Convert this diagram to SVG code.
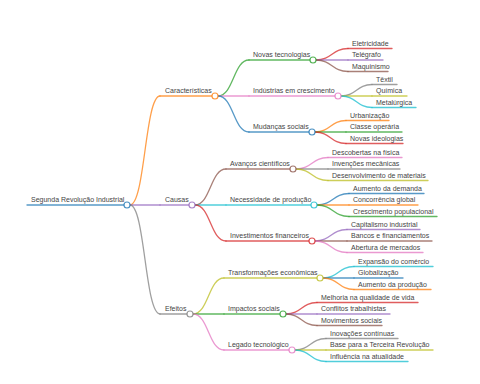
<svg xmlns="http://www.w3.org/2000/svg" width="480" height="384" viewBox="0 0 480 384">
<style>
text{font-family:"Liberation Sans",Arial,sans-serif;font-size:7px;fill:#444}
path,line{fill:none;stroke-width:1.3;stroke-linecap:round;stroke-opacity:0.75}
circle{fill:#fff;stroke-width:1.2;stroke-opacity:0.8}
.c0{stroke:#1f77b4}.c1{stroke:#ff7f0e}.c2{stroke:#2ca02c}.c3{stroke:#d62728}.c4{stroke:#9467bd}
.c5{stroke:#8c564b}.c6{stroke:#e377c2}.c7{stroke:#7f7f7f}.c8{stroke:#bcbd22}.c9{stroke:#17becf}
</style>
<rect width="480" height="384" fill="#fff"/>
<g id="connectors">
<path class="c1" d="M130,205 C145,205 145,96 160,96"/>
<path class="c4" d="M130,205 L160,205"/>
<path class="c7" d="M130,205 C145,205 145,314 160,314"/>
<path class="c2" d="M218,96 C233.5,96 233.5,60 249,60"/>
<path class="c6" d="M218,96 L249,96"/>
<path class="c0" d="M218,96 C233.5,96 233.5,132 249,132"/>
<path class="c5" d="M195,205 C210.5,205 210.5,169 226,169"/>
<path class="c9" d="M195,205 L226,205"/>
<path class="c3" d="M195,205 C210.5,205 210.5,241 226,241"/>
<path class="c8" d="M193,314 C208.5,314 208.5,278 224,278"/>
<path class="c2" d="M193,314 L224,314"/>
<path class="c6" d="M193,314 C208.5,314 208.5,350 224,350"/>
<path class="c3" d="M316,60 C332,60 332,48.5 348,48.5"/>
<path class="c4" d="M316,60 L348,60"/>
<path class="c5" d="M316,60 C332,60 332,71.5 348,71.5"/>
<path class="c7" d="M341,96 C356.5,96 356.5,84.5 372,84.5"/>
<path class="c8" d="M341,96 L372,96"/>
<path class="c9" d="M341,96 C356.5,96 356.5,107.5 372,107.5"/>
<path class="c1" d="M315,132 C330.5,132 330.5,120.5 346,120.5"/>
<path class="c2" d="M315,132 L346,132"/>
<path class="c3" d="M315,132 C330.5,132 330.5,143.5 346,143.5"/>
<path class="c6" d="M296,169 C312,169 312,157.5 328,157.5"/>
<path class="c7" d="M296,169 L328,169"/>
<path class="c8" d="M296,169 C312,169 312,180.5 328,180.5"/>
<path class="c0" d="M317,205 C333,205 333,193.5 349,193.5"/>
<path class="c1" d="M317,205 L349,205"/>
<path class="c2" d="M317,205 C333,205 333,216.5 349,216.5"/>
<path class="c4" d="M315,241 C331,241 331,229.5 347,229.5"/>
<path class="c5" d="M315,241 L347,241"/>
<path class="c6" d="M315,241 C331,241 331,252.5 347,252.5"/>
<path class="c9" d="M323,278 C338.5,278 338.5,266.5 354,266.5"/>
<path class="c0" d="M323,278 L354,278"/>
<path class="c1" d="M323,278 C338.5,278 338.5,289.5 354,289.5"/>
<path class="c3" d="M286,314 C301.5,314 301.5,302.5 317,302.5"/>
<path class="c4" d="M286,314 L317,314"/>
<path class="c5" d="M286,314 C301.5,314 301.5,325.5 317,325.5"/>
<path class="c7" d="M295,350 C310.5,350 310.5,338.5 326,338.5"/>
<path class="c8" d="M295,350 L326,350"/>
<path class="c9" d="M295,350 C310.5,350 310.5,361.5 326,361.5"/>
</g>
<g id="root"><line class="c0" x1="27" y1="205" x2="124" y2="205"/><circle class="c0" cx="127" cy="205" r="3"/><text x="31" y="202">Segunda Revolução Industrial</text></g>
<g id="caracteristicas"><line class="c1" x1="160" y1="96" x2="212" y2="96"/><circle class="c1" cx="215" cy="96" r="3"/><text x="165" y="93">Características</text></g>
<g id="causas"><line class="c4" x1="160" y1="205" x2="189" y2="205"/><circle class="c4" cx="192" cy="205" r="3"/><text x="165" y="202">Causas</text></g>
<g id="efeitos"><line class="c7" x1="160" y1="314" x2="187" y2="314"/><circle class="c7" cx="190" cy="314" r="3"/><text x="165" y="311">Efeitos</text></g>
<g id="novas-tecnologias"><line class="c2" x1="249" y1="60" x2="310" y2="60"/><circle class="c2" cx="313" cy="60" r="3"/><text x="253" y="57">Novas tecnologias</text></g>
<g id="industrias"><line class="c6" x1="249" y1="96" x2="335" y2="96"/><circle class="c6" cx="338" cy="96" r="3"/><text x="253" y="93">Indústrias em crescimento</text></g>
<g id="mudancas"><line class="c0" x1="249" y1="132" x2="309" y2="132"/><circle class="c0" cx="312" cy="132" r="3"/><text x="253" y="129">Mudanças sociais</text></g>
<g id="avancos"><line class="c5" x1="226" y1="169" x2="290" y2="169"/><circle class="c5" cx="293" cy="169" r="3"/><text x="230" y="166">Avanços científicos</text></g>
<g id="necessidade"><line class="c9" x1="226" y1="205" x2="311" y2="205"/><circle class="c9" cx="314" cy="205" r="3"/><text x="230" y="202">Necessidade de produção</text></g>
<g id="investimentos"><line class="c3" x1="226" y1="241" x2="309" y2="241"/><circle class="c3" cx="312" cy="241" r="3"/><text x="230" y="238">Investimentos financeiros</text></g>
<g id="transformacoes"><line class="c8" x1="224" y1="278" x2="317" y2="278"/><circle class="c8" cx="320" cy="278" r="3"/><text x="228" y="275">Transformações econômicas</text></g>
<g id="impactos"><line class="c2" x1="224" y1="314" x2="280" y2="314"/><circle class="c2" cx="283" cy="314" r="3"/><text x="228" y="311">Impactos sociais</text></g>
<g id="legado"><line class="c6" x1="224" y1="350" x2="289" y2="350"/><circle class="c6" cx="292" cy="350" r="3"/><text x="228" y="347">Legado tecnológico</text></g>
<g id="eletricidade"><line class="c3" x1="348" y1="48.5" x2="392" y2="48.5"/><text x="352" y="45.5">Eletricidade</text></g>
<g id="telegrafo"><line class="c4" x1="348" y1="60" x2="383" y2="60"/><text x="352" y="57">Telégrafo</text></g>
<g id="maquinismo"><line class="c5" x1="348" y1="71.5" x2="388" y2="71.5"/><text x="352" y="68.5">Maquinismo</text></g>
<g id="textil"><line class="c7" x1="372" y1="84.5" x2="397" y2="84.5"/><text x="376" y="81.5">Têxtil</text></g>
<g id="quimica"><line class="c8" x1="372" y1="96" x2="407" y2="96"/><text x="376" y="93">Química</text></g>
<g id="metalurgica"><line class="c9" x1="372" y1="107.5" x2="416" y2="107.5"/><text x="376" y="104.5">Metalúrgica</text></g>
<g id="urbanizacao"><line class="c1" x1="346" y1="120.5" x2="389" y2="120.5"/><text x="350" y="117.5">Urbanização</text></g>
<g id="classe"><line class="c2" x1="346" y1="132" x2="402" y2="132"/><text x="350" y="129">Classe operária</text></g>
<g id="ideologias"><line class="c3" x1="346" y1="143.5" x2="403" y2="143.5"/><text x="350" y="140.5">Novas ideologias</text></g>
<g id="descobertas"><line class="c6" x1="328" y1="157.5" x2="402" y2="157.5"/><text x="332" y="154.5">Descobertas na física</text></g>
<g id="invencoes"><line class="c7" x1="328" y1="169" x2="400" y2="169"/><text x="332" y="166">Invenções mecânicas</text></g>
<g id="desenvolvimento"><line class="c8" x1="328" y1="180.5" x2="428" y2="180.5"/><text x="332" y="177.5">Desenvolvimento de materiais</text></g>
<g id="demanda"><line class="c0" x1="349" y1="193.5" x2="424" y2="193.5"/><text x="353" y="190.5">Aumento da demanda</text></g>
<g id="concorrencia"><line class="c1" x1="349" y1="205" x2="418" y2="205"/><text x="353" y="202">Concorrência global</text></g>
<g id="crescimento"><line class="c2" x1="349" y1="216.5" x2="437" y2="216.5"/><text x="353" y="213.5">Crescimento populacional</text></g>
<g id="capitalismo"><line class="c4" x1="347" y1="229.5" x2="420" y2="229.5"/><text x="351" y="226.5">Capitalismo industrial</text></g>
<g id="bancos"><line class="c5" x1="347" y1="241" x2="432" y2="241"/><text x="351" y="238">Bancos e financiamentos</text></g>
<g id="abertura"><line class="c6" x1="347" y1="252.5" x2="423" y2="252.5"/><text x="351" y="249.5">Abertura de mercados</text></g>
<g id="expansao"><line class="c9" x1="354" y1="266.5" x2="433" y2="266.5"/><text x="358" y="263.5">Expansão do comércio</text></g>
<g id="globalizacao"><line class="c0" x1="354" y1="278" x2="403" y2="278"/><text x="358" y="275">Globalização</text></g>
<g id="producao"><line class="c1" x1="354" y1="289.5" x2="431" y2="289.5"/><text x="358" y="286.5">Aumento da produção</text></g>
<g id="melhoria"><line class="c3" x1="317" y1="302.5" x2="418" y2="302.5"/><text x="321" y="299.5">Melhoria na qualidade de vida</text></g>
<g id="conflitos"><line class="c4" x1="317" y1="314" x2="390" y2="314"/><text x="321" y="311">Conflitos trabalhistas</text></g>
<g id="movimentos"><line class="c5" x1="317" y1="325.5" x2="382" y2="325.5"/><text x="321" y="322.5">Movimentos sociais</text></g>
<g id="inovacoes"><line class="c7" x1="326" y1="338.5" x2="398" y2="338.5"/><text x="330" y="335.5">Inovações contínuas</text></g>
<g id="base"><line class="c8" x1="326" y1="350" x2="433" y2="350"/><text x="330" y="347">Base para a Terceira Revolução</text></g>
<g id="influencia"><line class="c9" x1="326" y1="361.5" x2="408" y2="361.5"/><text x="330" y="358.5">Influência na atualidade</text></g>
</svg>
